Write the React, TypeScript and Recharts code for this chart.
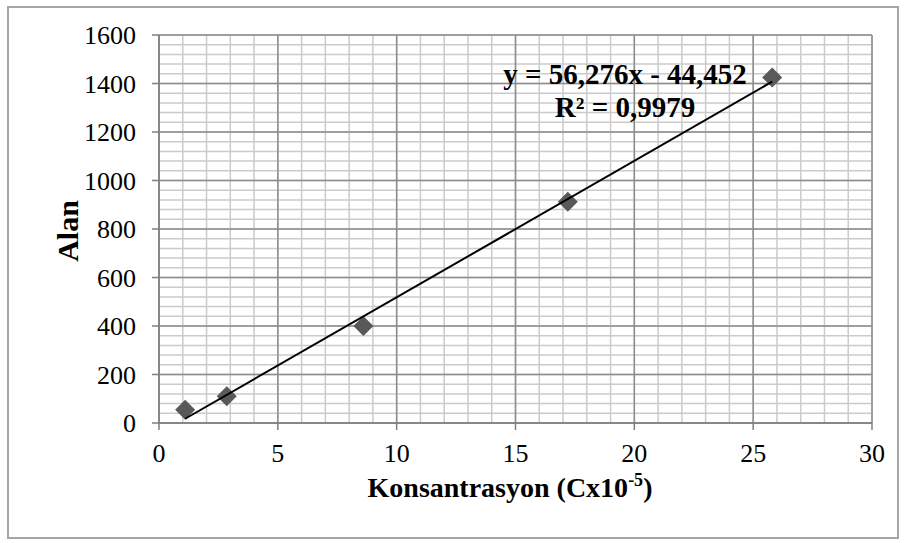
import { ScatterChart, Scatter, XAxis, YAxis, CartesianGrid } from 'recharts';

// measured points (konsantrasyon x10^-5 vs peak area)
const konsantrasyon = [1.1, 2.85, 8.6, 17.2, 25.8];
const alan = [55, 110, 400, 912, 1425];

// trendline ends, y = 56,276x - 44,452
const trendX = [1.1, 25.8];
const trendY = [17.5, 1407.5];

const xTicks = [0, 5, 10, 15, 20, 25, 30];
const yTicks = [0, 200, 400, 600, 800, 1000, 1200, 1400, 1600];
const xMinor = Array.from({ length: 31 }, (_, i) => i);
const yMinor = Array.from({ length: 41 }, (_, i) => i * 40);
const Y_MAX = 1600;

const points = konsantrasyon.map((x, i) => ({ x, y: alan[i] }));
const trend = trendX.map((x, i) => ({ x, y: trendY[i] }));

const FONT = '"Liberation Serif", "Times New Roman", serif';

const Diamond = (props: any) => {
  const { cx, cy } = props;
  const r = 10;
  return (
    <polygon
      points={`${cx},${cy - r} ${cx + r},${cy} ${cx},${cy + r} ${cx - r},${cy}`}
      fill="#595959"
    />
  );
};

// rows of the minor grid (every 40)
const rowsFor = (vals: number[]) => (args: any) => {
  const s = args?.yAxis?.scale;
  return vals.map((v) => {
    if (typeof s === 'function') return s(v);
    if (s && typeof s.map === 'function') return s.map(v);
    const { top, height } = args.offset;
    return top + height * (1 - v / Y_MAX);
  });
};

export default function App() {
  return (
    <div style={{ position: 'absolute', left: 0, top: 0, width: 904, height: 543, background: '#fff' }}>
      <div
        style={{
          position: 'absolute',
          left: 7,
          top: 6,
          width: 888,
          height: 529,
          border: '2px solid #a6a6a6',
        }}
      />
      <ScatterChart
        width={904}
        height={543}
        margin={{ top: 35, right: 32, bottom: 60, left: 59 }}
        style={{ position: 'absolute', left: 0, top: 0 }}
      >
        <CartesianGrid
          stroke="#cbcbcb"
          strokeWidth={1.5}
          verticalValues={xMinor}
          horizontalCoordinatesGenerator={rowsFor(yMinor)}
        />
        <CartesianGrid
          stroke="#8c8c8c"
          strokeWidth={1.5}
          verticalValues={xTicks}
          horizontalValues={yTicks}
        />
        <XAxis
          type="number"
          dataKey="x"
          domain={[0, 30]}
          ticks={xTicks}
          height={60}
          tickSize={7}
          tickMargin={14}
          axisLine={{ stroke: '#7f7f7f', strokeWidth: 1.5 }}
          tickLine={{ stroke: '#7f7f7f', strokeWidth: 1.5 }}
          tick={{ fill: '#000', fontSize: 26, fontFamily: FONT }}
        />
        <YAxis
          type="number"
          dataKey="y"
          domain={[0, Y_MAX]}
          ticks={yTicks}
          width={100}
          tickSize={7}
          tickMargin={16}
          axisLine={{ stroke: '#7f7f7f', strokeWidth: 1.5 }}
          tickLine={{ stroke: '#7f7f7f', strokeWidth: 1.5 }}
          tick={{ fill: '#000', fontSize: 26, fontFamily: FONT }}
        />
        <Scatter data={points} shape={Diamond} isAnimationActive={false} />
        <Scatter
          data={trend}
          line={{ stroke: '#000', strokeWidth: 2 }}
          shape={() => <g />}
          isAnimationActive={false}
        />
        <text
          x={67}
          y={231}
          transform="rotate(-90 67 231)"
          textAnchor="middle"
          dominantBaseline="central"
          fontFamily={FONT}
          fontWeight="bold"
          fontSize={30}
          fill="#000"
        >
          Alan
        </text>
        <text x={510} y={497} textAnchor="middle" fontFamily={FONT} fontWeight="bold" fontSize={28} fill="#000">
          Konsantrasyon (Cx10
          <tspan fontSize={18} dy={-11}>-5</tspan>
          <tspan dy={11}>)</tspan>
        </text>
        <text x={625} y={84} textAnchor="middle" fontFamily={FONT} fontWeight="bold" fontSize={29} fill="#000">
          y = 56,276x - 44,452
        </text>
        <text x={625} y={117} textAnchor="middle" fontFamily={FONT} fontWeight="bold" fontSize={29} fill="#000">
          R² = 0,9979
        </text>
      </ScatterChart>
    </div>
  );
}
